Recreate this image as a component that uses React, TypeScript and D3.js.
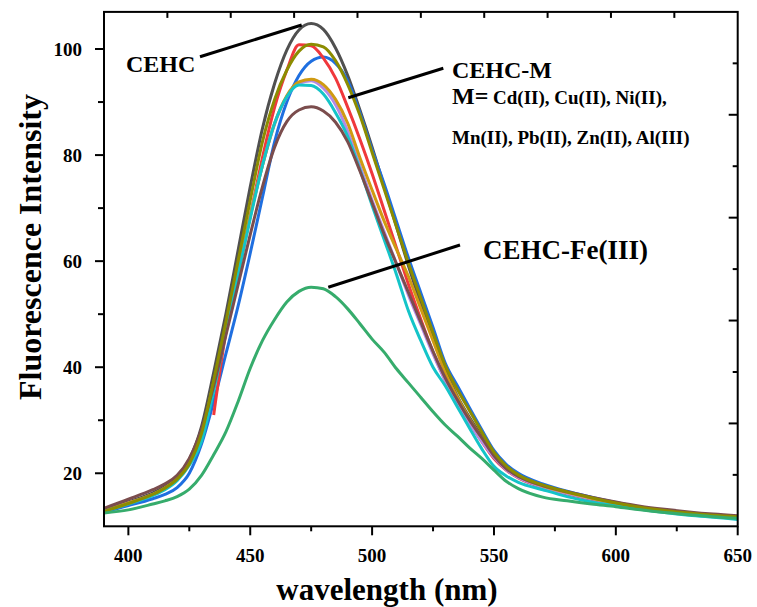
import React from "react";
import * as d3 from "d3";

const wavelengths = [390,400,410,415,420,425,430,435,440,445,450,455,460,465,470,475,480,485,490,495,500,505,510,515,520,525,530,535,540,545,550,555,560,570,580,590,600,610,620,630,640,650];

const cehc = [13.0,14.6,16.3,17.5,19.3,22.6,28.8,39,50,62,74,85,93.5,99.8,103.6,104.8,103.7,100.2,95,88.5,81.5,74,66.5,59,52,45.5,39.5,34.5,30.5,27,23.6,21.2,19.5,17.6,16.3,15.2,14.3,13.5,12.9,12.4,12,11.7];
const olive = [12.8,14.3,16.0,17.2,18.9,21.8,27.5,37.5,48.5,60,71.5,82.5,90.5,96,99.6,100.9,100.4,97.8,93.3,87.5,80.5,73.5,66.5,59.5,53,46.5,40.3,35.8,31.8,27.8,24,21.4,19.7,17.8,16.5,15.4,14.4,13.6,13,12.5,12.1,11.8];
const red = [null,null,null,null,null,null,null,31,46.5,57.5,68.5,79.5,89,96,100.8,100.6,98.3,94.5,89,83,76.5,69.5,62.5,55.5,49,42.8,37.5,33,29.5,26,22.8,20.6,19.1,17.3,16.1,15.1,14.2,13.4,12.8,12.3,11.9,11.6];
const blue = [12.7,13.9,15.2,16.0,17.3,20.0,25.5,33.5,42.5,51.5,61.5,72,82.5,90,95,97.7,98.5,97.3,94,88,81,74.5,67.5,60.5,54,47.5,40.8,36.5,32.3,28.2,24.3,21.7,20,18,16.6,15.5,14.5,13.6,13,12.5,12.1,11.8];
const gold = [12.9,14.4,16.0,17.2,19.0,22.0,27.5,37,47.5,58,68.5,78,86,91.2,93.8,94.3,93.3,90.5,86,79.5,73.4,67.5,62.2,57,51,45,39,34.3,30.2,26.7,23.6,21.1,19.5,17.6,16.4,15.3,14.4,13.6,13,12.5,12.1,11.8];
const purple = [12.9,14.4,16.0,17.2,19.0,22,27.5,37,47.5,58,68.5,78,85.8,91,93.5,94,92.6,89.5,84.5,78,71.5,65.5,59.5,53.5,48,42.5,37.5,33.5,29.5,26,23,20.7,19.2,17.4,16.2,15.2,14.3,13.5,12.9,12.4,12,11.7];
const cyan = [12.8,14.2,15.8,16.9,18.6,21.5,26,35.5,46.5,57.5,68,78,86,91,93.2,93.1,91.5,88,83.5,77.3,70.5,64,57.5,50.5,45,40,36.5,32.5,28.5,24.6,21.3,19.5,18.3,16.9,15.6,14.6,13.9,13.2,12.6,12.1,11.7,11.3];
const brown = [13.4,15.1,16.9,18.0,19.6,22.8,28.3,36.5,46,55.5,65,74,81.5,86.3,88.5,89.1,88.3,86.2,82.5,77,71,65,59.5,54,48.5,43,38,33.8,30,26.7,23.3,20.9,19.4,17.7,16.5,15.5,14.6,13.8,13.2,12.7,12.3,12.0];
const fe = [12.5,13.1,14.2,14.8,15.6,17,19.6,23.5,27.8,33.5,39.8,45,49,52.3,54.3,55.1,54.8,53.3,51,48.2,45.3,42.8,39.7,37,34.3,31.6,29.1,27,24.8,22.8,20.6,18.5,17.1,15.5,14.8,14.2,13.7,13.1,12.6,12.2,11.8,11.5];

const series = [
  { name: "CEHC", values: cehc, color: "#505050" },
  { name: "Cu", values: blue, color: "#1f6fe0" },
  { name: "Cd", values: red, color: "#f0383c" },
  { name: "Mn", values: purple, color: "#b48ae6" },
  { name: "Ni", values: gold, color: "#d09a12" },
  { name: "Zn", values: cyan, color: "#14c4c8" },
  { name: "Pb", values: brown, color: "#7b4d4d" },
  { name: "Al", values: olive, color: "#8c8c00" },
  { name: "Fe", values: fe, color: "#36ac6c" },
];

const xTicks = [400, 450, 500, 550, 600, 650];
const xMinor = [425, 475, 525, 575, 625];
const yTicks = [20, 40, 60, 80, 100];
const yMinor = [30, 50, 70, 90];

const FONT = "'Liberation Serif', 'Times New Roman', serif";

export default function App() {
  const x = d3.scaleLinear().domain([390, 650]).range([104, 737.7]);
  const y = d3.scaleLinear().domain([10, 107]).range([526.3, 11.9]);
  const top = d3.scaleLinear().domain([0, 10]).range([104, 737.7]);
  const right = d3.scaleLinear().domain([0, 10]).range([526.3, 11.9]);
  const line = d3
    .line<number | null>()
    .defined((d) => d != null)
    .x((_, i) => x(wavelengths[i]))
    .y((d) => y(d as number))
    .curve(d3.curveMonotoneX);

  const x0 = x.range()[0], x1 = x.range()[1];
  const y0 = y.range()[0], y1 = y.range()[1];

  return (
    <svg width={757} height={607} style={{ position: "absolute", left: 0, top: 0, background: "#fff" }}>
      <rect width={757} height={607} fill="#fff" />
      <defs>
        <clipPath id="plot">
          <rect x={x0} y={y1} width={x1 - x0} height={y0 - y1} />
        </clipPath>
      </defs>
      <g clipPath="url(#plot)">
        {series.map((s) => (
          <path key={s.name} d={line(s.values as (number | null)[]) || ""} fill="none" stroke={s.color} strokeWidth={3} strokeLinejoin="round" />
        ))}
      </g>
      <rect x={x0} y={y1} width={x1 - x0} height={y0 - y1} fill="none" stroke="#000" strokeWidth={2} />
      {xTicks.map((t) => (
        <g key={"xt" + t}>
          <line x1={x(t)} x2={x(t)} y1={y0} y2={y0 + 9} stroke="#000" strokeWidth={2} />
          <text x={x(t)} y={562} textAnchor="middle" fontFamily={FONT} fontWeight="bold" fontSize={19}>{t}</text>
        </g>
      ))}
      {xMinor.map((t) => (
        <line key={"xm" + t} x1={x(t)} x2={x(t)} y1={y0} y2={y0 + 5} stroke="#000" strokeWidth={2} />
      ))}
      {yTicks.map((t) => (
        <g key={"yt" + t}>
          <line x1={x0 - 9} x2={x0} y1={y(t)} y2={y(t)} stroke="#000" strokeWidth={2} />
          <text x={82} y={y(t) + 6.5} textAnchor="end" fontFamily={FONT} fontWeight="bold" fontSize={19}>{t}</text>
        </g>
      ))}
      {yMinor.map((t) => (
        <line key={"ym" + t} x1={x0 - 6} x2={x0} y1={y(t)} y2={y(t)} stroke="#000" strokeWidth={2} />
      ))}
      {d3.range(1, 10).map((i) => (
        <line key={"tt" + i} x1={top(i)} x2={top(i)} y1={y1} y2={y1 + 6} stroke="#000" strokeWidth={2} />
      ))}
      {d3.range(1, 10).map((i) => (
        <line key={"rt" + i} x1={x1 - (i % 2 === 0 ? 9 : 5)} x2={x1} y1={right(i)} y2={right(i)} stroke="#000" strokeWidth={2} />
      ))}
      <text x={387} y={600} textAnchor="middle" fontFamily={FONT} fontWeight="bold" fontSize={31}>wavelength (nm)</text>
      <text transform="translate(41,247) rotate(-90)" textAnchor="middle" fontFamily={FONT} fontWeight="bold" fontSize={32}>Fluorescence Intensity</text>
      <line x1={200} y1={56.7} x2={301.7} y2={25} stroke="#000" strokeWidth={3} />
      <text x={126} y={72} fontFamily={FONT} fontWeight="bold" fontSize={24}>CEHC</text>
      <line x1={443.3} y1={68.3} x2={348.3} y2={97.7} stroke="#000" strokeWidth={3} />
      <text x={452} y={78} fontFamily={FONT} fontWeight="bold" fontSize={24}>CEHC-M</text>
      <text x={452} y={104} fontFamily={FONT} fontWeight="bold" fontSize={19}>
        <tspan fontSize={24}>M=</tspan> Cd(II), Cu(II), Ni(II),
      </text>
      <text x={452} y={143.5} fontFamily={FONT} fontWeight="bold" fontSize={19}>Mn(II), Pb(II), Zn(II), Al(III)</text>
      <line x1={460} y1={245} x2={328.3} y2={287.3} stroke="#000" strokeWidth={3} />
      <text x={483} y={258.5} fontFamily={FONT} fontWeight="bold" fontSize={27}>CEHC-Fe(III)</text>
    </svg>
  );
}
